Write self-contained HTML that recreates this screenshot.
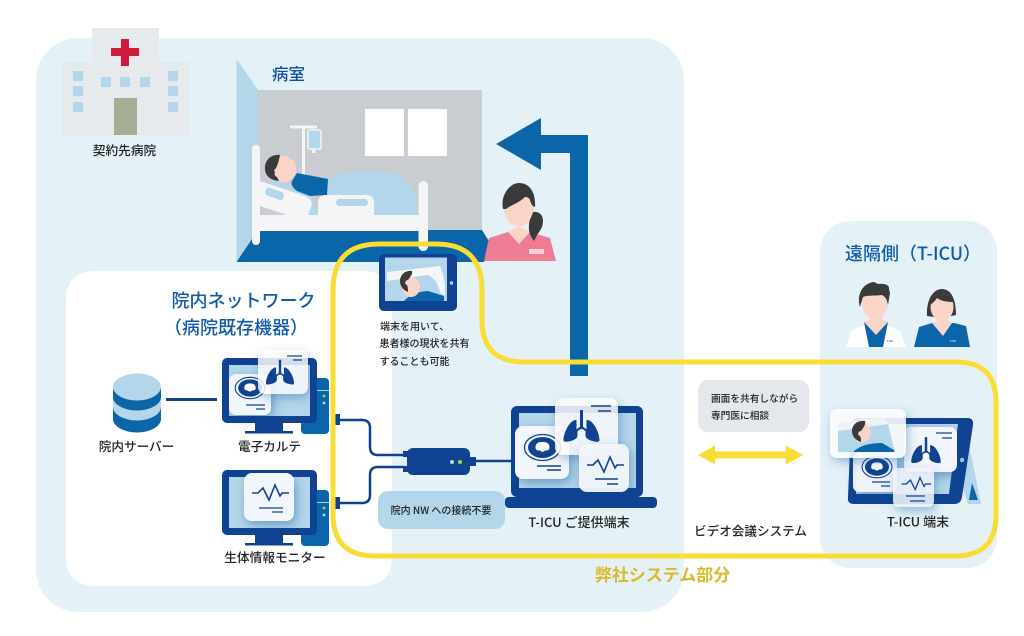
<!DOCTYPE html>
<html lang="ja"><head><meta charset="utf-8"><title>T-ICU</title>
<style>
html,body{margin:0;padding:0;background:#fff}
svg{display:block}
text{font-family:"Noto Sans CJK JP","Liberation Sans",sans-serif;fill:#222;text-anchor:middle;font-weight:500}
</style></head><body>
<svg width="1024" height="636" viewBox="0 0 1024 636" xmlns="http://www.w3.org/2000/svg">
<defs>
<filter id="sh" x="-30%" y="-30%" width="170%" height="170%"><feDropShadow dx="2" dy="4" stdDeviation="5" flood-color="#0f4391" flood-opacity=".4"/></filter>
<g id="lung" fill="#0f4391"><rect x="-1.500" y="-17" width="3" height="19"/><path d="M0 0L-7 5M0 0L7 5" stroke="#0f4391" stroke-width="2"/><path d="M-5-7c-6-1-13 12-13 20 0 2 2 2 5 1.500 5-1 9-3 9-6V4l-1-1z"/><path d="M5-7c6-1 13 12 13 20 0 2-2 2-5 1.500-5-1-9-3-9-6V4l1-1z"/></g>
<g id="ct"><ellipse cx="0" cy="0" rx="18" ry="13" fill="none" stroke="#0f4391" stroke-width="1.300"/><ellipse cx="0" cy="0" rx="14.500" ry="10.500" fill="#0f4391"/><path d="M-7 0c0-5 4-5.500 7-5.500s7 .5 7 5.500c0 3-3 3-4 3s-2 1.500-3 1.500-2-1.500-3-1.500-4 0-4-3z" fill="#fff"/></g>
<g id="ecg"><path d="M-18 0h6l5-5 6 12 6-15 5 11 2-3h7M15 0h3" fill="none" stroke="#0f4391" stroke-width="1.600"/></g>
<g id="tower"><rect x="0" y="0" width="28" height="56" rx="4" fill="#0a66a8"/><rect x="13" y="12" width="15" height="1" fill="#b3d6ea"/><circle cx="23" cy="18" r="1.400" fill="#a8d34a"/><circle cx="23" cy="25" r="1.400" fill="#b3d6ea"/></g>
<g id="mon"><rect x="255" y="65" width="28" height="9" fill="#0f4391"/><rect x="245" y="73" width="48" height="2.500" fill="#0f4391"/><rect x="222" y="0" width="95" height="65" rx="5" fill="#0f4391"/><rect x="229" y="7" width="81" height="51" fill="#b3d6ea"/></g>
</defs>

<!-- panels -->
<rect x="36" y="38" width="648" height="574" rx="42" fill="#e4f2f7"/>
<rect x="820" y="221" width="177" height="347" rx="30" fill="#e4f2f7"/>
<path d="M96 271H362Q392 271 392 301V556Q392 586 362 586H96Q66 586 66 556V301Q66 271 96 271z" fill="#fff"/>

<!-- hospital -->
<rect x="92" y="28" width="67" height="40" fill="#e6eaed"/>
<rect x="62" y="62" width="127" height="73" fill="#e6eaed"/>
<path d="M121 39h8v9h10v8h-10v10h-8V56h-10v-8h10z" fill="#d21c3c"/>
<g fill="#b3d6ea">
<rect x="73" y="71" width="10" height="10"/><rect x="73" y="86" width="10" height="10"/><rect x="73" y="102" width="10" height="10"/>
<rect x="168" y="71" width="10" height="10"/><rect x="168" y="86" width="10" height="10"/><rect x="168" y="102" width="10" height="10"/>
<rect x="101" y="77" width="10" height="10"/><rect x="120" y="77" width="10" height="10"/><rect x="140" y="77" width="10" height="10"/>
</g>
<rect x="114" y="98" width="23" height="37" fill="#a7ae96"/>
<text x="124.500" y="155" font-size="12.700">契約先病院</text>

<!-- room -->
<path d="M236.500 59L258 90V231L236.500 262z" fill="#b3d6ea"/>
<rect x="258" y="90" width="224" height="140" fill="#c9ccd0"/>
<path d="M258 230H482L492 246L484 262H236.500z" fill="#0a66a8"/>
<rect x="365" y="109" width="39" height="47" fill="#fff"/><rect x="408" y="109" width="39" height="47" fill="#fff"/>
<text x="288.500" y="80" font-size="16.500" style="fill:#0f4fa0">病室</text>
<!-- IV -->
<rect x="290" y="125.500" width="27" height="3" fill="#f5f5f7"/><rect x="302" y="126" width="3" height="50" fill="#f5f5f7"/>
<rect x="308" y="130" width="13" height="19" rx="2" fill="#b3d6ea" stroke="#f5f5f7" stroke-width="1.500"/><rect x="312" y="149" width="3.500" height="4" fill="#f5f5f7"/>
<!-- bed & patient -->
<path d="M327 215V192Q327 172 347 172H383Q418 172 418 215z" fill="#b3d6ea"/>
<path d="M262 186L275 178L295 190L310 196L320 215H262z" fill="#b3d6ea"/>
<circle cx="283" cy="169" r="13" fill="#fbd4c8"/>
<path d="M280 155c-9-1-15 5-15 13 0 8 5 12 14 13l-2-4c-2-1-3-2-2-4l-1-3c3-1 5-10 6-15z" fill="#3a3a3a"/>
<path d="M297 173L328 179L327 195L310 196L297 191Q290 186 292 181z" fill="#0a66a8"/>
<rect x="252" y="145" width="8" height="100" rx="4" fill="#f5f5f7"/>
<rect x="418.500" y="181" width="9.500" height="70" rx="4.500" fill="#f5f5f7"/>
<path d="M260 181L305 196Q314 200 311 207L308 215H260z" fill="#f5f5f7"/>
<path d="M260 206L287 215H260z" fill="#c9ccd0"/>
<rect x="265" y="190" width="19" height="8" rx="3" transform="rotate(20 275 194)" fill="#b3d6ea"/>
<path d="M318 215V203Q318 195 326 195H366Q374 195 374 203V215z" fill="#f5f5f7"/>
<rect x="336" y="199" width="32" height="7" rx="3.500" fill="#b3d6ea"/>
<rect x="260" y="215" width="168" height="16" fill="#f5f5f7"/>
<!-- nurse -->
<path d="M484 261L489 238L508 232H530L550 238L556 261z" fill="#ee7d94"/>
<path d="M508 232L519 244L530 232L519 226z" fill="#fbd4c8"/>
<ellipse cx="519" cy="209" rx="15" ry="17" fill="#fbd4c8"/>
<path d="M503 209c-3-14 7-26 16-26 11 0 17 10 16 24-3-1-4-3-5-7-1-2-2-3-5-3-6 6-14 8-19 12z" fill="#3a3a3a"/>
<path d="M533 212c5-1 10 2 10 9 0 6-3 10-6 14l-3 6c-3-4-6-9-5-16 0-6 3-8 4-13z" fill="#3a3a3a"/>
<rect x="529" y="249" width="15" height="5" fill="#fad4dc"/>

<!-- blue arrow -->
<path d="M496 144L541 118V135H588V376H570V153H541V170z" fill="#0a66a8"/>

<!-- server -->
<path d="M113 407V419A24 13.500 0 0 0 161 419V407z" fill="#0a66a8"/>
<path d="M113 397V407A24 13.500 0 0 0 161 407V397z" fill="#b3d6ea"/>
<path d="M113 387V397A24 13.500 0 0 0 161 397V387z" fill="#0a66a8"/>
<ellipse cx="137" cy="387" rx="24" ry="13.500" fill="#b3d6ea"/>
<path d="M166 399.500H217" stroke="#0f4391" stroke-width="3"/>
<text x="136.500" y="451" font-size="12.600">院内サーバー</text>

<!-- EMR monitor -->
<use href="#tower" x="301" y="378"/>
<use href="#mon" y="358"/>
<g filter="url(#sh)"><rect x="229" y="374" width="42" height="41" rx="7" fill="#f2f6fb"/></g>
<use href="#ct" transform="translate(250 388) scale(.82)"/>
<path d="M246 405h19M256 409h9" stroke="#0f4391" stroke-width="1.300"/>
<g filter="url(#sh)"><rect x="258" y="350" width="50" height="44" rx="7" fill="#fff" fill-opacity=".8"/></g>
<use href="#lung" transform="translate(280 373) scale(.78)"/>
<path d="M287 356h15M293 360h9" stroke="#0f4391" stroke-width="1.300"/>
<text x="269.500" y="451" font-size="12.600">電子カルテ</text>

<!-- vitals monitor -->
<use href="#tower" x="301" y="490"/>
<use href="#mon" y="470"/>
<g filter="url(#sh)"><rect x="244" y="473" width="50" height="48" rx="8" fill="#f2f6fb"/></g>
<use href="#ecg" transform="translate(270 493)"/>
<path d="M259 508h24M272 512h11" stroke="#0f4391" stroke-width="1.300"/>
<text x="275" y="562" font-size="12.700">生体情報モニター</text>

<!-- network title -->
<text x="243.500" y="307" font-size="18" style="fill:#0f5ba8">院内ネットワーク</text>
<text x="236" y="334" font-size="18" style="fill:#0f5ba8">（病院既存機器）</text>

<!-- cables -->
<g fill="none" stroke="#0f4391" stroke-width="2.500">
<path d="M338 420H362Q370 420 370 428V447Q370 455 378 455H404"/>
<path d="M404 467H378Q370 467 370 475V495Q370 503 362 503H338"/>
<path d="M474 461H512"/>
</g>
<rect x="332" y="414" width="8" height="11" fill="#0f4391"/><rect x="332" y="497" width="8" height="12" fill="#0f4391"/>
<rect x="403" y="451" width="6" height="6" fill="#0f4391"/><rect x="403" y="466" width="6" height="6" fill="#0f4391"/>
<rect x="468" y="457" width="8" height="9" fill="#0f4391"/>
<rect x="407" y="448" width="63" height="27" rx="6" fill="#0f4391"/>
<circle cx="452" cy="462" r="2" fill="#b3d6ea"/><circle cx="460" cy="462" r="2" fill="#a8d34a"/>
<rect x="378" y="491" width="127" height="38" rx="10" fill="#b3d6ea"/>
<text x="441" y="514" font-size="10">院内 NW への接続不要</text>

<!-- tablet patient -->
<rect x="379" y="254" width="78" height="57" rx="5" fill="#0f4391"/>
<rect x="385" y="257.500" width="62" height="43.500" fill="#b3d6ea"/>
<path d="M387 272L440 266Q446 280 445 296L440 293Q438 280 428 275L387 281z" fill="#f5f5f7"/>
<path d="M404 301Q412 292 428 291L444 296V301z" fill="#0a66a8"/>
<ellipse cx="411" cy="287" rx="9" ry="10" fill="#fbd4c8"/>
<path d="M412 271c-7-1-12 4-12 10 0 5 3 9 8 11 0-3 0-5-1-7-3-1-2-5 1-5 2-3 5-6 4-9z" fill="#3a3a3a"/>
<circle cx="451.500" cy="283" r="1.700" fill="#b3d6ea"/>
<text font-size="10" x="380" y="330" style="text-anchor:start">端末を用いて、</text>
<text font-size="10" x="379.500" y="347" style="text-anchor:start">患者様の現状を共有</text>
<text font-size="10" x="379.500" y="365" style="text-anchor:start">することも可能</text>

<!-- laptop -->
<rect x="505" y="497" width="152" height="11" rx="4" fill="#0f4391"/>
<rect x="511" y="406" width="132" height="91" rx="6" fill="#0f4391"/>
<rect x="519" y="413" width="117" height="75" fill="#b3d6ea"/>
<g filter="url(#sh)"><rect x="515" y="426" width="54" height="53" rx="8" fill="#f2f6fb"/></g>
<use href="#ct" transform="translate(542.500 447.500)"/>
<path d="M537 466h24M547 470h14" stroke="#0f4391" stroke-width="1.500"/>
<g filter="url(#sh)"><rect x="555" y="398" width="63" height="57" rx="8" fill="#fff" fill-opacity=".82"/></g>
<use href="#lung" transform="translate(581.500 427)"/>
<path d="M591 406h20M598 411h13" stroke="#0f4391" stroke-width="1.500"/>
<g filter="url(#sh)"><rect x="579" y="444" width="50" height="48" rx="8" fill="#f2f6fb" fill-opacity=".95"/></g>
<use href="#ecg" transform="translate(605 465)"/>
<path d="M595 479h23M607 484h11" stroke="#0f4391" stroke-width="1.500"/>
<text x="579" y="527" font-size="13">T-ICU ご提供端末</text>

<!-- discussion -->
<rect x="698" y="380" width="111" height="52" rx="10" fill="#e4e7eb"/>
<text x="711" y="402" font-size="9.700" style="text-anchor:start">画面を共有しながら</text>
<text x="711" y="419" font-size="9.700" style="text-anchor:start">専門医に相談</text>
<path d="M698 455L715 445.500V451.500H786V445.500L803 455L786 464.500V458.500H715V464.500z" fill="#f9dc34"/>
<text x="750.500" y="535.500" font-size="12.600">ビデオ会議システム</text>

<!-- remote -->
<text x="913" y="260" font-size="18" style="fill:#0f5ba8">遠隔側（T-ICU）</text>
<!-- doctor -->
<path d="M846 347L851 331L864 325H887L900 331L906 347z" fill="#fff"/>
<path d="M864 322L869 347H883L888 322L876 330z" fill="#0a66a8"/>
<rect x="870" y="312" width="12" height="12" fill="#fbd4c8"/>
<path d="M864 322L876 335L888 322L878 318H874z" fill="#fbd4c8"/>
<ellipse cx="875" cy="303" rx="13" ry="16" fill="#fbd4c8"/>
<path d="M860 307c-4-14 4-24 14-25l4 2c6-1 12 1 11 5l1 4-2 12c-1-5-2-8-6-10-7 1-15 0-19 2z" fill="#3a3a3a"/>
<!-- nurse 2 -->
<path d="M914 347L919 327L932 323H954L966 326L970 347z" fill="#0a66a8"/>
<path d="M932 323L943 336L952 323L944 318z" fill="#fbd4c8"/>
<path d="M927 316c-1-16 6-27 15-27s14 10 14 26l-9 2h-13z" fill="#3a3a3a"/>
<ellipse cx="942" cy="307" rx="11.500" ry="14" fill="#fbd4c8"/>
<path d="M930 305c0-8 5-12 12-12 4 0 9 3 11 9-6 0-12-1-16-4-2 3-4 5-7 7z" fill="#3a3a3a"/>
<text x="890" y="342" font-size="2.500" style="fill:#0f4391">T-ICU</text>
<text x="953" y="342" font-size="2.500" style="fill:#fff">T-ICU</text>

<!-- tablet -->
<path d="M965 425L981 504H968L948 440z" fill="#b3d6ea"/>
<path d="M969 500L972 483L978 500z" fill="#0a66a8"/>
<path d="M858 418H967Q974 418 973 425L962 497Q961 504 954 504H854Q847 504 848 497L851 425Q852 418 858 418z" fill="#0f4391"/>
<path d="M858 424H958L949 494H856z" fill="#b3d6ea"/>
<circle cx="962" cy="460" r="2.200" fill="#b3d6ea"/>
<g filter="url(#sh)"><rect x="853" y="453" width="44" height="39" rx="6" fill="#f2f6fb" fill-opacity=".95"/></g>
<use href="#ct" transform="translate(877 467) scale(.83)"/>
<path d="M872 482h18M881 486h9" stroke="#0f4391" stroke-width="1.300"/>
<g filter="url(#sh)"><rect x="904" y="427" width="53" height="45" rx="7" fill="#f2f6fb"/></g>
<use href="#lung" transform="translate(926 451) scale(.82)"/>
<path d="M936 433h16M942 438h10" stroke="#0f4391" stroke-width="1.300"/>
<g filter="url(#sh)"><rect x="893" y="468" width="41" height="39" rx="6" fill="#f2f6fb" fill-opacity=".85"/></g>
<use href="#ecg" transform="translate(916 484) scale(.8)"/>
<path d="M906 496h19M910 501h15" stroke="#0f4391" stroke-width="1.300"/>
<g filter="url(#sh)"><rect x="830" y="409" width="76" height="49" rx="7" fill="#fff" fill-opacity=".85"/></g>
<path d="M838 431L888 424L895 452H838z" fill="#b3d6ea"/>
<path d="M838 423L884 417L888 424L838 431z" fill="#f0f3f6"/>
<path d="M853 452Q862 443 882 443L894 450V452z" fill="#0a66a8"/>
<ellipse cx="862" cy="433" rx="8.500" ry="10" fill="#fbd4c8"/>
<path d="M865 421c-8-1-13 4-13 10 0 5 3 9 9 11 0-2 0-4-1-6-3-1-2-5 1-5 2-3 5-6 4-10z" fill="#3a3a3a"/>
<text x="918" y="526.500" font-size="13">T-ICU 端末</text>

<!-- yellow outline -->
<path d="M333 290Q333 244 379 244H436Q482 244 482 290V320Q482 362 524 362H956Q996 362 996 402V515Q996 556 955 556H375Q333 556 333 514z" fill="none" stroke="#f9dc34" stroke-width="5"/>
<text x="662.500" y="581" font-size="17" style="fill:#d9b92e;font-weight:700">弊社システム部分</text>
</svg>
</body></html>
